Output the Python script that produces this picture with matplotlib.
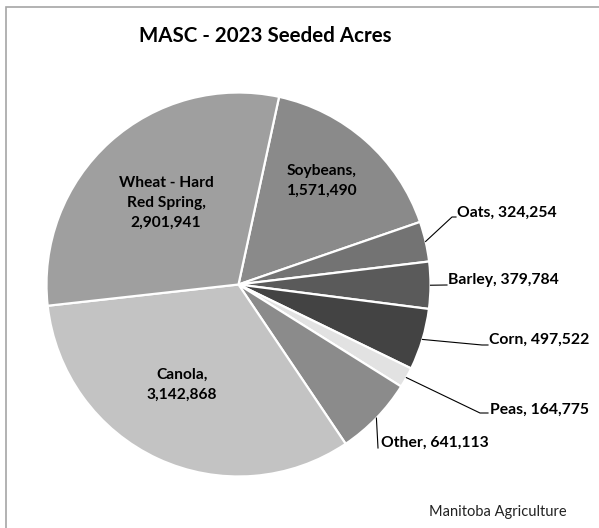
import matplotlib
matplotlib.use("Agg")
import matplotlib.pyplot as plt
from matplotlib.patches import Rectangle
import numpy as np

# ---- data ----
categories = ["Soybeans", "Oats", "Barley", "Corn", "Peas", "Other", "Canola",
              "Wheat - Hard\nRed Spring"]
acres = [1571490, 324254, 379784, 497522, 164775, 641113, 3142868, 2901941]
colors = ["#8a8a8a", "#737373", "#5a5a5a", "#434343", "#e2e2e2", "#8b8b8b",
          "#c3c3c3", "#9f9f9f"]
title = "MASC - 2023 Seeded Acres"
source = "Manitoba Agriculture"

W, H = 599, 528
fig = plt.figure(figsize=(W / 100, H / 100), dpi=100)
plt.rcParams["font.family"] = ["Lato", "DejaVu Sans"]

# pie geometry (pixels, top-left origin)
CX, CY, R = 238.5, 284.5, 192.0
ax = fig.add_axes([(CX - R) / W, (H - CY - R) / H, 2 * R / W, 2 * R / H])
wedges, _ = ax.pie(acres, colors=colors, startangle=90 - 12.2, counterclock=False,
                   radius=1.0, wedgeprops=dict(edgecolor="white", linewidth=1.6))
ax.set_xlim(-1, 1)
ax.set_ylim(-1, 1)
ax.set_aspect("equal")
ax.axis("off")


def pu(px, py):
    return (px - CX) / R, (CY - py) / R


def fmt(v):
    return f"{v:,}"


# inside labels
inside = {"Soybeans": (322, 181), "Canola": (182, 385),
          "Wheat - Hard\nRed Spring": (166, 203)}
outside = {
    # text left x, text center y, elbow points
    "Oats": (457, 213, [(452, 217), (456, 217)]),
    "Barley": (448, 280, [(447, 285)]),
    "Corn": (489, 340, [(482, 345), (488, 345)]),
    "Peas": (490, 410, [(480, 413), (488, 413)]),
    "Other": (381, 443, [(378, 448)]),
}
FS_IN = 11.2
FS_OUT = 11.3
for w, cat, val in zip(wedges, categories, acres):
    label = f"{cat},\n{fmt(val)}"
    if cat in inside:
        px, py = inside[cat]
        x, y = pu(px, py)
        ax.text(x, y, label, ha="center", va="center", fontsize=FS_IN,
                fontweight="bold", linespacing=1.55, color="black")
    else:
        tx, ty, pts = outside[cat]
        mid = np.deg2rad((w.theta1 + w.theta2) / 2)
        xs = [np.cos(mid)] + [pu(*p)[0] for p in pts]
        ys = [np.sin(mid)] + [pu(*p)[1] for p in pts]
        ax.plot(xs, ys, color="black", linewidth=0.8, clip_on=False)
        x, y = pu(tx, ty)
        ax.text(x, y, f"{cat}, {fmt(val)}", ha="left", va="center", fontsize=FS_OUT,
                fontweight="bold", color="black", clip_on=False)

fig.text(265 / W, 1 - 36 / H, title, ha="center", va="center", fontsize=14.8,
         fontweight="bold", color="black")
fig.text(429 / W, 1 - 512 / H, source, ha="left", va="center", fontsize=10.5,
         color="#222222")

fig.patches.append(Rectangle((5.5 / W, -0.1), 1.2, 1 - 7.5 / H + 0.1,
                             transform=fig.transFigure, fill=False,
                             edgecolor="#a6a6a6", linewidth=1.2))

fig.savefig("out.png", dpi=100, facecolor="white")
